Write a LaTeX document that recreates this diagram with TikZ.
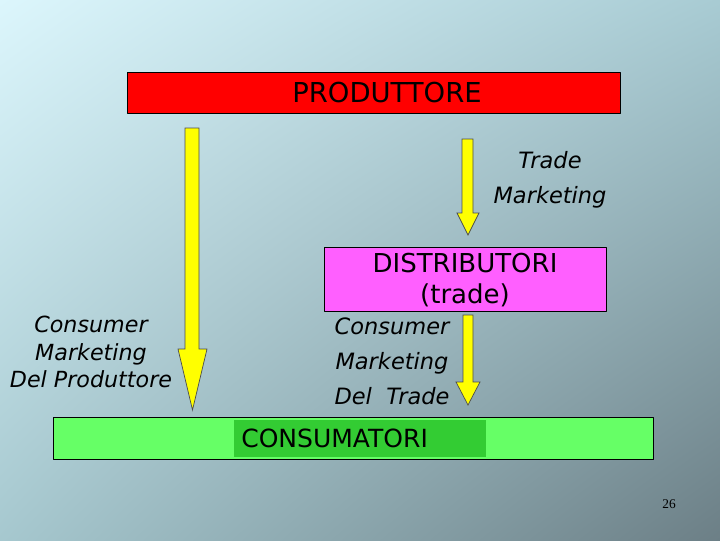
\documentclass[tikz,border=0pt]{standalone}
\usepackage{fontspec}
\setmainfont{DejaVu Sans}
\newfontfamily\numfont{Liberation Serif}
\usepackage{xcolor}
\usetikzlibrary{shadings}
\definecolor{bgul}{HTML}{DCF6FC}
\definecolor{bgur}{HTML}{A8CBD3}
\definecolor{bgll}{HTML}{A6C8CF}
\definecolor{bglr}{HTML}{6C7F86}
\definecolor{prodred}{HTML}{FF0000}
\definecolor{distmag}{HTML}{FF5FFF}
\definecolor{consgreen}{HTML}{66FF66}
\definecolor{consdark}{HTML}{33CC33}
\definecolor{arrowyel}{HTML}{FFFF00}
\tikzset{
  box/.style={draw=black,line width=0.7pt,inner sep=0pt},
  yarrow/.style={fill=arrowyel,draw=black!70,line width=0.5pt,line join=miter},
  itxt/.style={font=\fontsize{16}{24.8}\selectfont\itshape,align=center},
}
\begin{document}
\begin{tikzpicture}[x=0.025cm,y=-0.025cm,line cap=round,line join=round]
			\useasboundingbox (0,0) rectangle (720,540);
			\shade[upper left=bgul,upper right=bgur,lower left=bgll,lower right=bglr] (0,0) rectangle (720,540);
			% boxes
			\node [box,fill=prodred,minimum width=493*0.025cm,minimum height=41*0.025cm] (prod) at (373.5,92.5) {};
			\node [font=\fontsize{19.5}{22}\selectfont] (prodtxt) at (387,93) {PRODUTTORE};
			\node [box,fill=distmag,minimum width=282*0.025cm,minimum height=64*0.025cm] (dist) at (465,279) {};
			\node [font=\fontsize{18.5}{21.5}\selectfont,align=center] (disttxt) at (465,280) {DISTRIBUTORI\\(trade)};
			\node [box,fill=consgreen,minimum width=600*0.025cm,minimum height=42*0.025cm] (cons) at (353,438) {};
			\node [fill=consdark,minimum width=252*0.025cm,minimum height=37*0.025cm] (consin) at (360,438.5) {};
			\node [font=\fontsize{17.8}{20}\selectfont,anchor=west,inner sep=0pt] (constxt) at (241,438) {CONSUMATORI};
			% arrows
			\draw [yarrow] (185,128) -- (199,128) -- (199,349) -- (207,349) -- (192.5,410) -- (178,349) -- (185,349) -- cycle;
			\draw [yarrow] (462,139) -- (473,139) -- (473,213) -- (479,213) -- (468,235) -- (457,213) -- (462,213) -- cycle;
			\draw [yarrow] (463,315) -- (473,315) -- (473,382) -- (480,382) -- (468,405) -- (456,382) -- (463,382) -- cycle;
			% labels
			\node [itxt] (trademkt) at (550,180) {Trade\\Marketing};
			\node [itxt,font=\fontsize{15.8}{19.8}\selectfont\itshape] (prodmkt) at (91,352) {Consumer\\Marketing\\Del Produttore};
			\node [itxt] (trdmkt) at (392,361) {Consumer\\Marketing\\Del\ \ Trade};
			\node [font=\numfont\fontsize{9.5}{11}\selectfont] (pagenum) at (669,504) {26};
\end{tikzpicture}
\end{document}
